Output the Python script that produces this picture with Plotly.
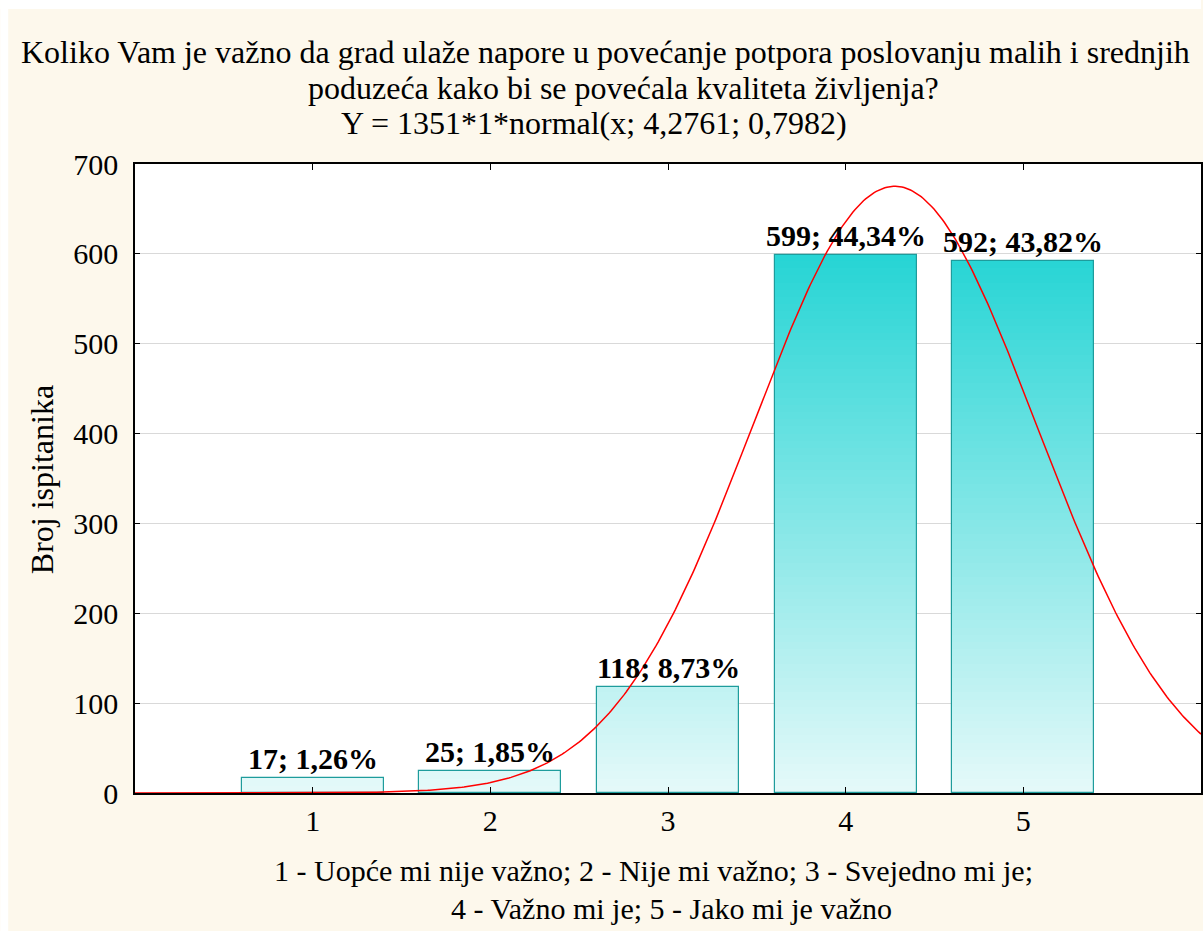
import numpy as np
import plotly.graph_objects as go

# ---- data ----
categories = [1, 2, 3, 4, 5]
counts = [17, 25, 118, 599, 592]
percents = ["1,26%", "1,85%", "8,73%", "44,34%", "43,82%"]
x_tick_labels = ["1", "2", "3", "4", "5"]
n_total = 1351
mu = 4.2761
sigma = 0.7982
title_lines = [
    "Koliko Vam je važno da grad ulaže napore u povećanje potpora poslovanju malih i srednjih",
    "poduzeća kako bi se povećala kvaliteta življenja?",
    "Y = 1351*1*normal(x; 4,2761; 0,7982)",
]
x_title_lines = [
    "1 - Uopće mi nije važno; 2 - Nije mi važno; 3 - Svejedno mi je;",
    "4 - Važno mi je; 5 - Jako mi je važno",
]
y_title = "Broj ispitanika"

FONT = "Liberation Serif"
OFF = 0  # page body margin removed via post_script
W, H = 1203, 931
L, T, R = 135, 164, 0
B = H - 793
PW, PH = W - L - R, H - T - B


def px_y(y):  # screen pixel y -> paper y
    return (H - B - (y - OFF)) / PH


def px_x(x):  # screen pixel x -> paper x
    return (x - OFF - L) / PW


# gradient colours by level
c_low = np.array([230, 250, 250])
c_high = np.array([38, 213, 213])


def color_at(v):
    t = min(max(v / 600.0, 0), 1.1)
    c = c_low + (c_high - c_low) * t
    c = np.clip(c, 0, 255).astype(int)
    return f"rgb({c[0]},{c[1]},{c[2]})"


step = 8
seg_x, seg_base, seg_h, seg_col = [], [], [], []
for c, v in zip(categories, counts):
    k = 0
    while k * step < v:
        lo = k * step
        hi = min(v, (k + 1) * step)
        seg_x.append(c)
        seg_base.append(lo)
        seg_h.append(hi - lo)
        seg_col.append(color_at((lo + hi) / 2))
        k += 1

fig = go.Figure()
fig.add_trace(go.Bar(
    x=seg_x, y=seg_h, base=seg_base, width=0.8,
    marker=dict(color=seg_col, line=dict(width=0)),
    hoverinfo="skip", showlegend=False,
))
fig.add_trace(go.Bar(
    x=categories, y=counts, width=0.8,
    marker=dict(color="rgba(0,0,0,0)", line=dict(color="#1E9C9C", width=1.2)),
    showlegend=False,
))

xs = np.linspace(0, 6, 500)
ys = n_total * 1 * np.exp(-0.5 * ((xs - mu) / sigma) ** 2) / (sigma * np.sqrt(2 * np.pi))
fig.add_trace(go.Scatter(x=xs, y=ys, mode="lines",
                         line=dict(color="#FF0000", width=1.5), showlegend=False))

annotations = []
for c, v, p in zip(categories, counts, percents):
    annotations.append(dict(
        x=c, y=v, xref="x", yref="y", text=f"{v}; {p}", showarrow=False,
        yanchor="bottom", yshift=1,
        font=dict(family=FONT, size=30, color="black", weight="bold"),
    ))

for line, xc, yc in zip(title_lines, [606, 624, 595], [52, 88, 123]):
    annotations.append(dict(
        x=px_x(xc), y=px_y(yc), xref="paper", yref="paper", text=line,
        showarrow=False, xanchor="center", yanchor="middle",
        font=dict(family=FONT, size=32, color="black"),
    ))

for line, xc, yc in zip(x_title_lines, [654, 673], [870, 908]):
    annotations.append(dict(
        x=px_x(xc), y=px_y(yc), xref="paper", yref="paper", text=line,
        showarrow=False, xanchor="center", yanchor="middle",
        font=dict(family=FONT, size=30, color="black"),
    ))

annotations.append(dict(
    x=px_x(42), y=px_y(480), xref="paper", yref="paper", text=y_title,
    showarrow=False, textangle=-90, xanchor="center", yanchor="middle",
    font=dict(family=FONT, size=32, color="black"),
))

# thin white border on the top and left like the reference
shapes = [
    dict(type="rect", xref="paper", yref="paper", layer="below",
         x0=px_x(0), x1=px_x(W), y0=px_y(9), y1=px_y(0),
         fillcolor="white", line=dict(width=0)),
    dict(type="rect", xref="paper", yref="paper", layer="below",
         x0=px_x(0), x1=px_x(8), y0=px_y(H), y1=px_y(0),
         fillcolor="white", line=dict(width=0)),
]

fig.update_layout(
    width=W, height=H,
    margin=dict(l=L, r=R, t=T, b=B, pad=0),
    paper_bgcolor="#FDF8EC",
    plot_bgcolor="white",
    barmode="overlay",
    bargap=0,
    font=dict(family=FONT, color="black"),
    annotations=annotations,
    shapes=shapes,
    xaxis=dict(
        range=[0, 6], tickvals=categories, ticktext=x_tick_labels,
        ticks="inside", ticklen=6, tickcolor="black", tickwidth=1,
        showline=True, mirror="ticks", linecolor="black", linewidth=1.5,
        showgrid=False, zeroline=False,
        tickfont=dict(family=FONT, size=30, color="black"),
    ),
    yaxis=dict(
        range=[0, 700], dtick=100, tick0=0,
        ticks="inside", ticklen=5, tickcolor="black", tickwidth=1,
        showline=True, mirror="ticks", linecolor="black", linewidth=1.5,
        showgrid=True, gridcolor="#D9D9D9", gridwidth=1, zeroline=False,
        ticklabelstandoff=9,
        tickfont=dict(family=FONT, size=30, color="black"),
    ),
)

fig.write_html(
    "out.html",
    config={"displayModeBar": False},
    post_script="document.body.style.margin='0';document.body.style.overflow='hidden';",
)
